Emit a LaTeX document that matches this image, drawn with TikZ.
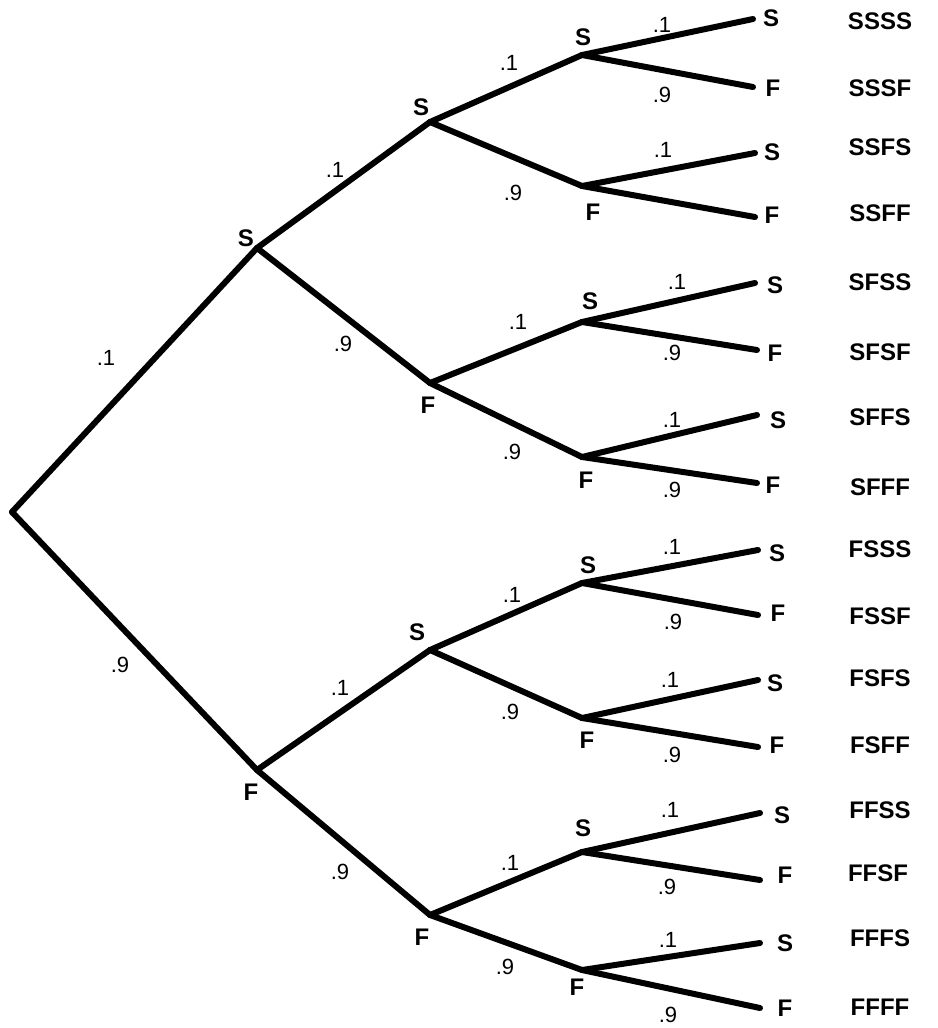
\documentclass[tikz,border=0pt]{standalone}
\usepackage{fontspec}
\setmainfont{Liberation Sans}
\begin{document}
\begin{tikzpicture}[x=1pt,y=-1pt,
  branch/.style={line width=6pt,line cap=round,line join=round},
  lab/.style={inner sep=0pt,font=\fontsize{24}{24}\selectfont\bfseries},
  prob/.style={inner sep=0pt,font=\fontsize{22}{22}\selectfont}]
\useasboundingbox (0,0) rectangle (937,1028);
% tree points
\coordinate (r) at (12,512);
\coordinate (s) at (257,248);
\coordinate (f) at (257,770);
\coordinate (ss) at (430,122);
\coordinate (sf) at (430,383);
\coordinate (fs) at (430,650);
\coordinate (ff) at (430,915);
\coordinate (sss) at (582,55);
\coordinate (ssf) at (582,186);
\coordinate (sfs) at (582,322);
\coordinate (sff) at (582,457);
\coordinate (fss) at (582,583);
\coordinate (fsf) at (582,718);
\coordinate (ffs) at (582,852);
\coordinate (fff) at (582,970);
\coordinate (e1) at (753,19);
\coordinate (e2) at (753,87);
\coordinate (e3) at (755,153);
\coordinate (e4) at (755,217);
\coordinate (e5) at (755,283);
\coordinate (e6) at (757,350);
\coordinate (e7) at (757,415);
\coordinate (e8) at (757,483);
\coordinate (e9) at (758,550);
\coordinate (e10) at (758,615);
\coordinate (e11) at (758,680);
\coordinate (e12) at (758,747);
\coordinate (e13) at (760,813);
\coordinate (e14) at (760,880);
\coordinate (e15) at (760,943);
\coordinate (e16) at (760,1008);
% branches
\draw[branch] (r) -- (s);
\draw[branch] (r) -- (f);
\draw[branch] (s) -- (ss);
\draw[branch] (s) -- (sf);
\draw[branch] (f) -- (fs);
\draw[branch] (f) -- (ff);
\draw[branch] (ss) -- (sss);
\draw[branch] (ss) -- (ssf);
\draw[branch] (sf) -- (sfs);
\draw[branch] (sf) -- (sff);
\draw[branch] (fs) -- (fss);
\draw[branch] (fs) -- (fsf);
\draw[branch] (ff) -- (ffs);
\draw[branch] (ff) -- (fff);
\draw[branch] (sss) -- (e1);
\draw[branch] (sss) -- (e2);
\draw[branch] (ssf) -- (e3);
\draw[branch] (ssf) -- (e4);
\draw[branch] (sfs) -- (e5);
\draw[branch] (sfs) -- (e6);
\draw[branch] (sff) -- (e7);
\draw[branch] (sff) -- (e8);
\draw[branch] (fss) -- (e9);
\draw[branch] (fss) -- (e10);
\draw[branch] (fsf) -- (e11);
\draw[branch] (fsf) -- (e12);
\draw[branch] (ffs) -- (e13);
\draw[branch] (ffs) -- (e14);
\draw[branch] (fff) -- (e15);
\draw[branch] (fff) -- (e16);
% node letters
\node[lab] (ls) at (246,238) {S};
\node[lab] (lf) at (251,792) {F};
\node[lab] (lss) at (421,107) {S};
\node[lab] (lsf) at (428,405) {F};
\node[lab] (lfs) at (417,632) {S};
\node[lab] (lff) at (422,937) {F};
\node[lab] (lsss) at (583,37) {S};
\node[lab] (lssf) at (593,212) {F};
\node[lab] (lsfs) at (590,301) {S};
\node[lab] (lsff) at (586,480) {F};
\node[lab] (lfss) at (588,565) {S};
\node[lab] (lfsf) at (587,740) {F};
\node[lab] (lffs) at (583,828) {S};
\node[lab] (lfff) at (577,987) {F};
% leaf letters
\node[lab] (l1) at (771,18) {S};
\node[lab] (l2) at (773,88) {F};
\node[lab] (l3) at (772,152) {S};
\node[lab] (l4) at (772,215) {F};
\node[lab] (l5) at (775,285) {S};
\node[lab] (l6) at (775,353) {F};
\node[lab] (l7) at (778,420) {S};
\node[lab] (l8) at (773,485) {F};
\node[lab] (l9) at (777,553) {S};
\node[lab] (l10) at (778,613) {F};
\node[lab] (l11) at (775,683) {S};
\node[lab] (l12) at (777,745) {F};
\node[lab] (l13) at (782,815) {S};
\node[lab] (l14) at (785,875) {F};
\node[lab] (l15) at (785,943) {S};
\node[lab] (l16) at (785,1008) {F};
% outcome labels
\node[lab] (o1) at (880,21) {SSSS};
\node[lab] (o2) at (880,88) {SSSF};
\node[lab] (o3) at (880,147) {SSFS};
\node[lab] (o4) at (880,213) {SSFF};
\node[lab] (o5) at (880,282) {SFSS};
\node[lab] (o6) at (880,352) {SFSF};
\node[lab] (o7) at (880,417) {SFFS};
\node[lab] (o8) at (880,487) {SFFF};
\node[lab] (o9) at (880,549) {FSSS};
\node[lab] (o10) at (880,616) {FSSF};
\node[lab] (o11) at (880,678) {FSFS};
\node[lab] (o12) at (880,745) {FSFF};
\node[lab] (o13) at (880,810) {FFSS};
\node[lab] (o14) at (878,873) {FFSF};
\node[lab] (o15) at (880,938) {FFFS};
\node[lab] (o16) at (880,1007) {FFFF};
% probabilities
\node[prob] (p1) at (106,358) {.1};
\node[prob] (p2) at (120,665) {.9};
\node[prob] (p3) at (335,170) {.1};
\node[prob] (p4) at (343,344) {.9};
\node[prob] (p5) at (340,688) {.1};
\node[prob] (p6) at (340,872) {.9};
\node[prob] (p7) at (509,63) {.1};
\node[prob] (p8) at (513,193) {.9};
\node[prob] (p9) at (518,322) {.1};
\node[prob] (p10) at (512,452) {.9};
\node[prob] (p11) at (512,595) {.1};
\node[prob] (p12) at (510,712) {.9};
\node[prob] (p13) at (510,863) {.1};
\node[prob] (p14) at (505,967) {.9};
\node[prob] (q1) at (662,25) {.1};
\node[prob] (q2) at (662,95) {.9};
\node[prob] (q3) at (663,150) {.1};
\node[prob] (q5) at (677,282) {.1};
\node[prob] (q6) at (672,353) {.9};
\node[prob] (q7) at (672,420) {.1};
\node[prob] (q8) at (672,490) {.9};
\node[prob] (q9) at (672,547) {.1};
\node[prob] (q10) at (673,622) {.9};
\node[prob] (q11) at (670,680) {.1};
\node[prob] (q12) at (672,755) {.9};
\node[prob] (q13) at (670,810) {.1};
\node[prob] (q14) at (667,887) {.9};
\node[prob] (q15) at (668,940) {.1};
\node[prob] (q16) at (668,1015) {.9};
\end{tikzpicture}
\end{document}
